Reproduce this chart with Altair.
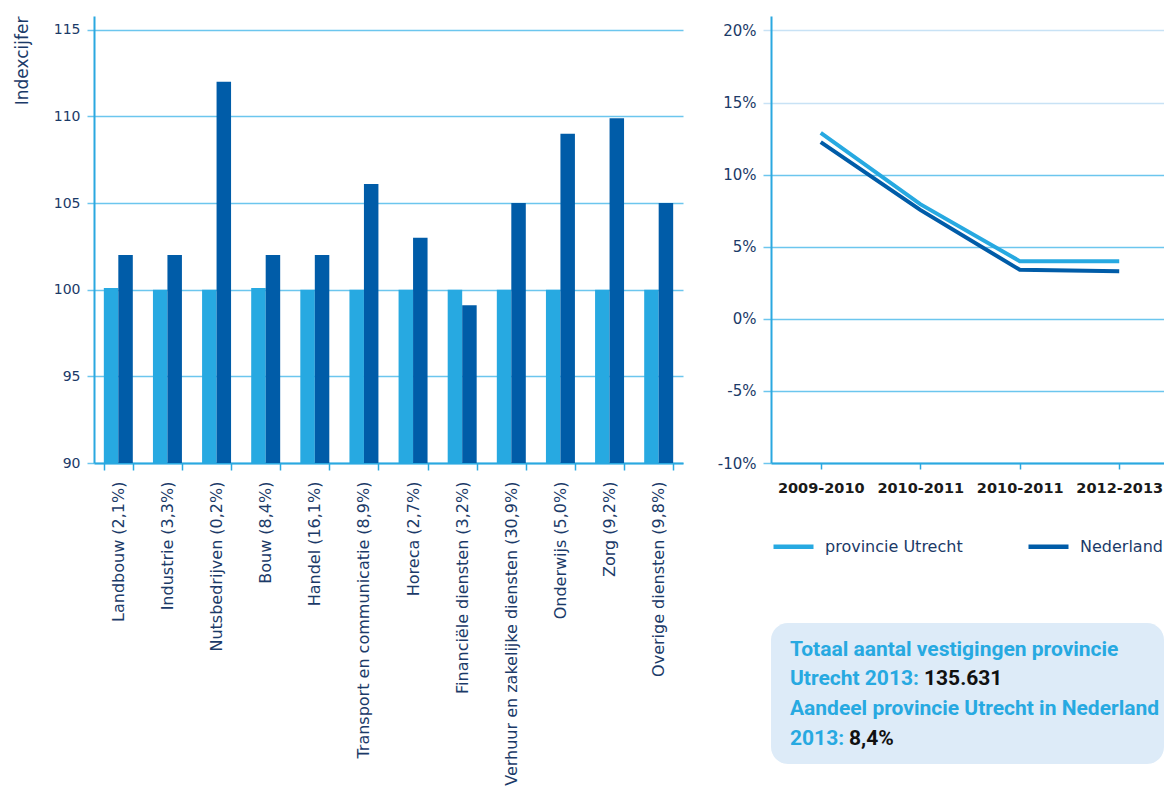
import json
import altair as alt
import pandas as pd

# ---------------- data ----------------
sectors = [
    "Landbouw (2,1%)",
    "Industrie (3,3%)",
    "Nutsbedrijven (0,2%)",
    "Bouw (8,4%)",
    "Handel (16,1%)",
    "Transport en communicatie (8,9%)",
    "Horeca (2,7%)",
    "Financiële diensten (3,2%)",
    "Verhuur en zakelijke diensten (30,9%)",
    "Onderwijs (5,0%)",
    "Zorg (9,2%)",
    "Overige diensten (9,8%)",
]
bar_series = ["2009", "2013"]
index_2009 = [100.1, 100.0, 100.0, 100.1, 100.0, 100.0, 100.0, 100.0, 100.0, 100.0, 100.0, 100.0]
index_2013 = [102.0, 102.0, 112.0, 102.0, 102.0, 106.1, 103.0, 99.1, 105.0, 109.0, 109.9, 105.0]
index_ticks = [90, 95, 100, 105, 110, 115]

periods = ["2009-2010", "2010-2011", "2010-2011", "2012-2013"]
line_series = ["provincie Utrecht", "Nederland"]
groei_utrecht = [12.9, 7.95, 4.0, 4.0]
groei_nederland = [12.25, 7.55, 3.4, 3.3]
pct_ticks = [-10, -5, 0, 5, 10, 15, 20]

box_lines = [
    "Totaal aantal vestigingen provincie",
    "Utrecht 2013:",
    "Aandeel provincie Utrecht in Nederland",
    "2013:",
]
box_values = ["135.631", "8,4%"]

# ---------------- styling ----------------
NAVY = "#1b3a68"
AXIS_BLUE = "#2aa8e0"
GRID_BLUE = "#6cc6ee"
GRID_PALE = "#c8e2f5"
LIGHT = "#27a9e1"
DARK = "#005ca8"
FONT = "DejaVu Sans"
BOX_FONT = "Roboto"

rows = []
for s, a, b in zip(sectors, index_2009, index_2013):
    rows.append({"sector": s, "reeks": bar_series[0], "index": a})
    rows.append({"sector": s, "reeks": bar_series[1], "index": b})
bar_df = pd.DataFrame(rows)

lrows = []
for i, (u, n) in enumerate(zip(groei_utrecht, groei_nederland)):
    lrows.append({"idx": i, "gebied": line_series[0], "groei": u})
    lrows.append({"idx": i, "gebied": line_series[1], "groei": n})
line_df = pd.DataFrame(lrows)

box_df = pd.DataFrame({"l1": [box_lines[0]], "l2": [box_lines[1]], "l3": [box_lines[2]],
                       "l4": [box_lines[3]], "v1": [box_values[0]], "v2": [box_values[1]]})

# ---------------- left: bar chart ----------------
bars = alt.Chart(bar_df).mark_bar(clip=True).encode(
    x=alt.X(
        "sector:N", sort=sectors, title=None,
        scale=alt.Scale(paddingInner=0.41, paddingOuter=0.2),
        axis=alt.Axis(labelAngle=-90, tickBand="extent", tickSize=7, tickColor=AXIS_BLUE,
                      tickWidth=1.5, domainColor=AXIS_BLUE, domainWidth=2, labelFont=FONT,
                      labelFontSize=16, labelColor=NAVY, labelPadding=11, labelLimit=600,
                      grid=False),
    ),
    xOffset=alt.XOffset("reeks:N", sort=bar_series),
    y=alt.Y(
        "index:Q",
        scale=alt.Scale(domain=[90, 115.8], nice=False, zero=False),
        axis=alt.Axis(values=index_ticks, title="Indexcijfer", titleAnchor="end",
                      titleFont=FONT, titleFontSize=17, titleFontWeight="normal",
                      titleColor=NAVY, titlePadding=22, labelFont=FONT, labelFontSize=14,
                      labelColor=NAVY, labelPadding=7, tickSize=7, tickColor=GRID_BLUE,
                      tickWidth=1.5, domainColor=AXIS_BLUE, domainWidth=2,
                      grid=True, gridColor=GRID_BLUE, gridWidth=1.5),
    ),
    y2=alt.datum(90),
    color=alt.Color("reeks:N", scale=alt.Scale(domain=bar_series, range=[LIGHT, DARK]),
                    legend=None),
).properties(width=589, height=447)

# ---------------- right: line chart ----------------
label_expr = json.dumps(periods) + "[datum.value]"

lines = alt.Chart(line_df).mark_line(strokeWidth=4).encode(
    x=alt.X(
        "idx:Q", title=None,
        scale=alt.Scale(domain=[-0.5, 3.45], nice=False, zero=False),
        axis=alt.Axis(values=[0, 1, 2, 3], labelExpr=label_expr, grid=False, tickSize=6,
                      tickColor=AXIS_BLUE, tickWidth=1.5, domainColor=AXIS_BLUE,
                      domainWidth=2, labelFont=FONT, labelFontSize=14.5,
                      labelFontWeight="bold", labelColor="#1a1a1a", labelPadding=12),
    ),
    y=alt.Y(
        "groei:Q", title=None,
        scale=alt.Scale(domain=[-10, 21], nice=False, zero=False),
        axis=alt.Axis(values=pct_ticks, labelExpr="datum.value + '%'", labelFont=FONT,
                      labelFontSize=15, labelColor=NAVY, labelPadding=7, tickSize=8,
                      tickColor={"condition": {"test": "datum.value >= 15", "value": GRID_PALE},
                                 "value": GRID_BLUE},
                      tickWidth=1.5, domainColor=AXIS_BLUE, domainWidth=2,
                      grid=True, gridWidth=1.5,
                      gridColor={"condition": {"test": "datum.value >= 15", "value": GRID_PALE},
                                 "value": GRID_BLUE}),
    ),
    color=alt.Color(
        "gebied:N", sort=line_series,
        scale=alt.Scale(domain=line_series, range=[LIGHT, DARK]),
        legend=alt.Legend(title=None, orient="none", direction="horizontal",
                          legendX=0, legendY=508, symbolType="stroke", symbolSize=1600,
                          symbolStrokeWidth=4.5, labelFont=FONT, labelFontSize=16,
                          labelColor=NAVY, labelOffset=9, columnPadding=56, labelLimit=400,
                          padding=0),
    ),
)

box = alt.Chart(box_df).mark_rect(cornerRadius=17, color="#ddebf8").encode(
    x=alt.value(0), x2=alt.value(393), y=alt.value(607), y2=alt.value(748)
)

def txt(field, x, y, color):
    return alt.Chart(box_df).mark_text(
        align="left", baseline="middle", font=BOX_FONT, fontSize=21, fontWeight="bold",
        color=color
    ).encode(text=f"{field}:N", x=alt.value(x), y=alt.value(y))

texts = (
    txt("l1", 19, 634, LIGHT)
    + txt("l2", 19, 663, LIGHT)
    + txt("v1", 153, 663, "#111111")
    + txt("l3", 19, 693, LIGHT)
    + txt("l4", 19, 723, LIGHT)
    + txt("v2", 78, 723, "#111111")
)

right = alt.layer(lines, box, texts).properties(width=393, height=447)

chart = alt.hconcat(bars, right, spacing=34).resolve_scale(
    color="independent"
).resolve_legend(color="independent").properties(
    padding={"left": 5, "top": 7, "right": 0, "bottom": 0},
    background="white",
).configure_view(stroke=None)

chart.save("out.html", embed_options={"renderer": "svg", "actions": False})
